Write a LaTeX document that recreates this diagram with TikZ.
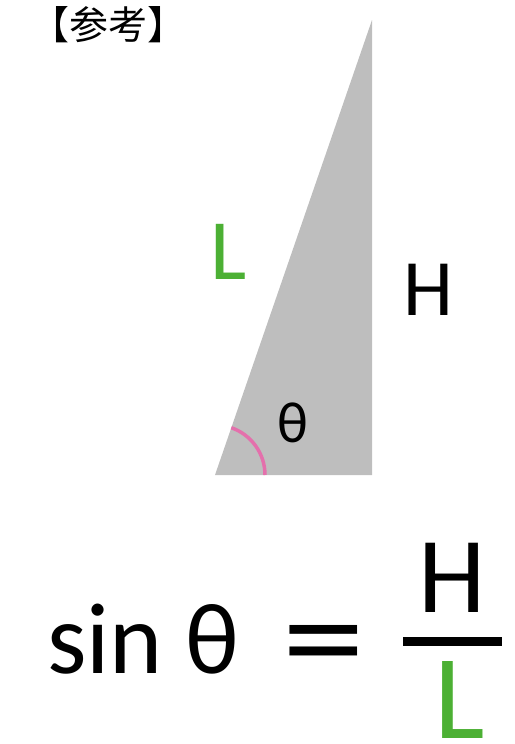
\documentclass[tikz,border=0pt]{standalone}
\usepackage{fontspec}
\setmainfont{Carlito}
\newfontfamily\cjk{Noto Sans CJK SC}
\newfontfamily\eqfont{DejaVu Sans}
\usetikzlibrary{positioning}
\definecolor{lgreen}{RGB}{76,176,52}
\definecolor{triggray}{RGB}{190,190,190}
\definecolor{arcpink}{RGB}{228,112,172}

\begin{document}
\begin{tikzpicture}[x=1pt, y=-1pt,
    lbl/.style={inner sep=0pt, font=\fontsize{80}{82}\selectfont},
    eq/.style={inner sep=0pt, anchor=base, font=\fontsize{108}{110}\selectfont}]
    \useasboundingbox (0,0) rectangle (514,744);
    % 三角形
    \coordinate (A) at (215,475);
    \coordinate (B) at (372,475);
    \coordinate (C) at (372,20);
    \fill[triggray] (A) -- (B) -- (C) -- cycle;
    \draw[arcpink, line width=3.5pt] ([xshift=50pt]A) arc[start angle=0, end angle=71, radius=50pt];
    % 标签
    \node[inner sep=0pt, font=\cjk\fontsize{39}{40}\selectfont] (ttl) at (108,25) {【参考】};
    \node[lbl, text=lgreen, font=\fontsize{86}{88}\selectfont] (lL) at (229,252) {L};
    \node[lbl] (lH) at (428,290) {H};
    \node[inner sep=0pt, font=\fontsize{58}{60}\selectfont] (lth) at (293,423) {θ};
    % 公式
    \node[eq, anchor=base west, font=\fontsize{101}{103}\selectfont] (sin) at (47,673) {sin\hspace{0.22em}θ};
    \node[eq, font=\eqfont\fontsize{108}{110}\selectfont] (equ) at (324,674) {=};
    \node[eq] (fH) at (452,612) {H};
    \node[eq, text=lgreen, font=\fontsize{120}{122}\selectfont] (fL) at (460,738) {L};
    \coordinate (barl) at (403,641);
    \coordinate (barr) at (502,641);
    \draw[line width=9pt] (barl) -- (barr);
\end{tikzpicture}
\end{document}
